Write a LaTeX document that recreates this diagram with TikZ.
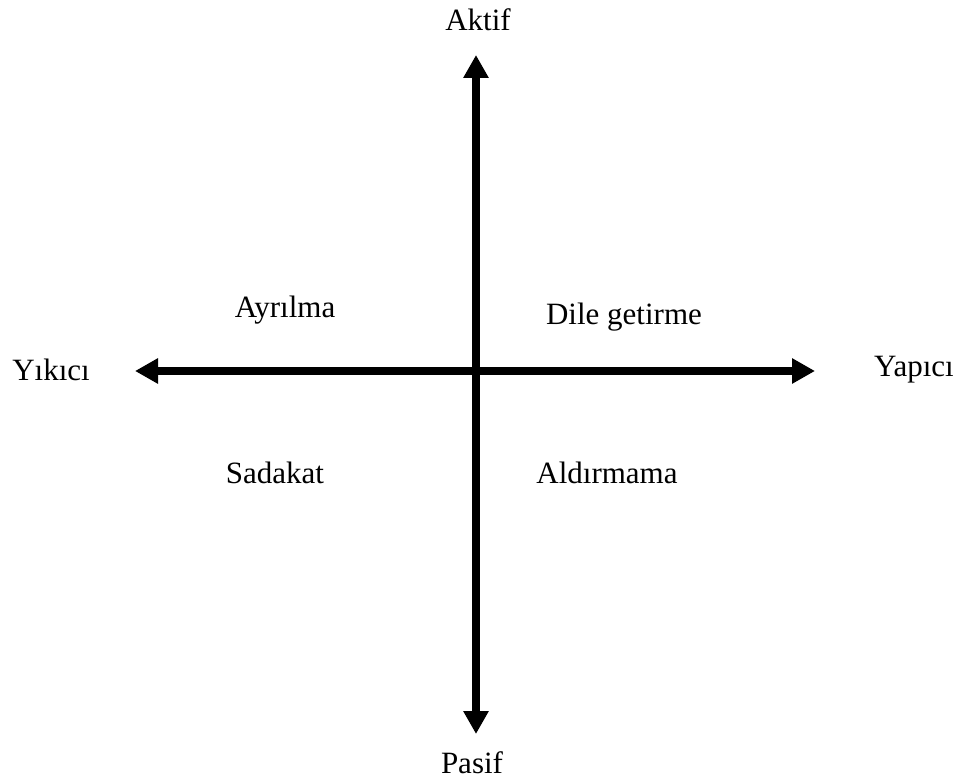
\documentclass[tikz,border=0pt]{standalone}
\usepackage{fontspec}
\setmainfont{Liberation Serif}
\usetikzlibrary{arrows.meta}

\begin{document}
\begin{tikzpicture}[
  x=1pt,y=-1pt,
  lab/.style={anchor=base,inner sep=0pt,font=\fontsize{31}{36}\selectfont},
  axis/.style={{Triangle[length=23pt,width=24pt]}-{Triangle[length=23pt,width=24pt]},line width=8pt,black}]
  \useasboundingbox (0,0) rectangle (962,781);
  % axis ends
  \coordinate (top) at (476,55);
  \coordinate (bot) at (476,734);
  \coordinate (lft) at (135,371);
  \coordinate (rgt) at (815,371);
  % labels
  \node[lab] (aktif) at (478,31) {Aktif};
  \node[lab] (pasif) at (472,773) {Pasif};
  \node[lab] (yikici) at (51,380) {Yıkıcı};
  \node[lab] (yapici) at (914,376) {Yapıcı};
  \node[lab] (ayrilma) at (285,317) {Ayrılma};
  \node[lab] (dile) at (624,324) {Dile getirme};
  \node[lab] (sadakat) at (275,483) {Sadakat};
  \node[lab] (aldirmama) at (607,483) {Aldırmama};
  \draw[axis] (bot) -- (top);
  \draw[axis] (lft) -- (rgt);
\end{tikzpicture}
\end{document}
